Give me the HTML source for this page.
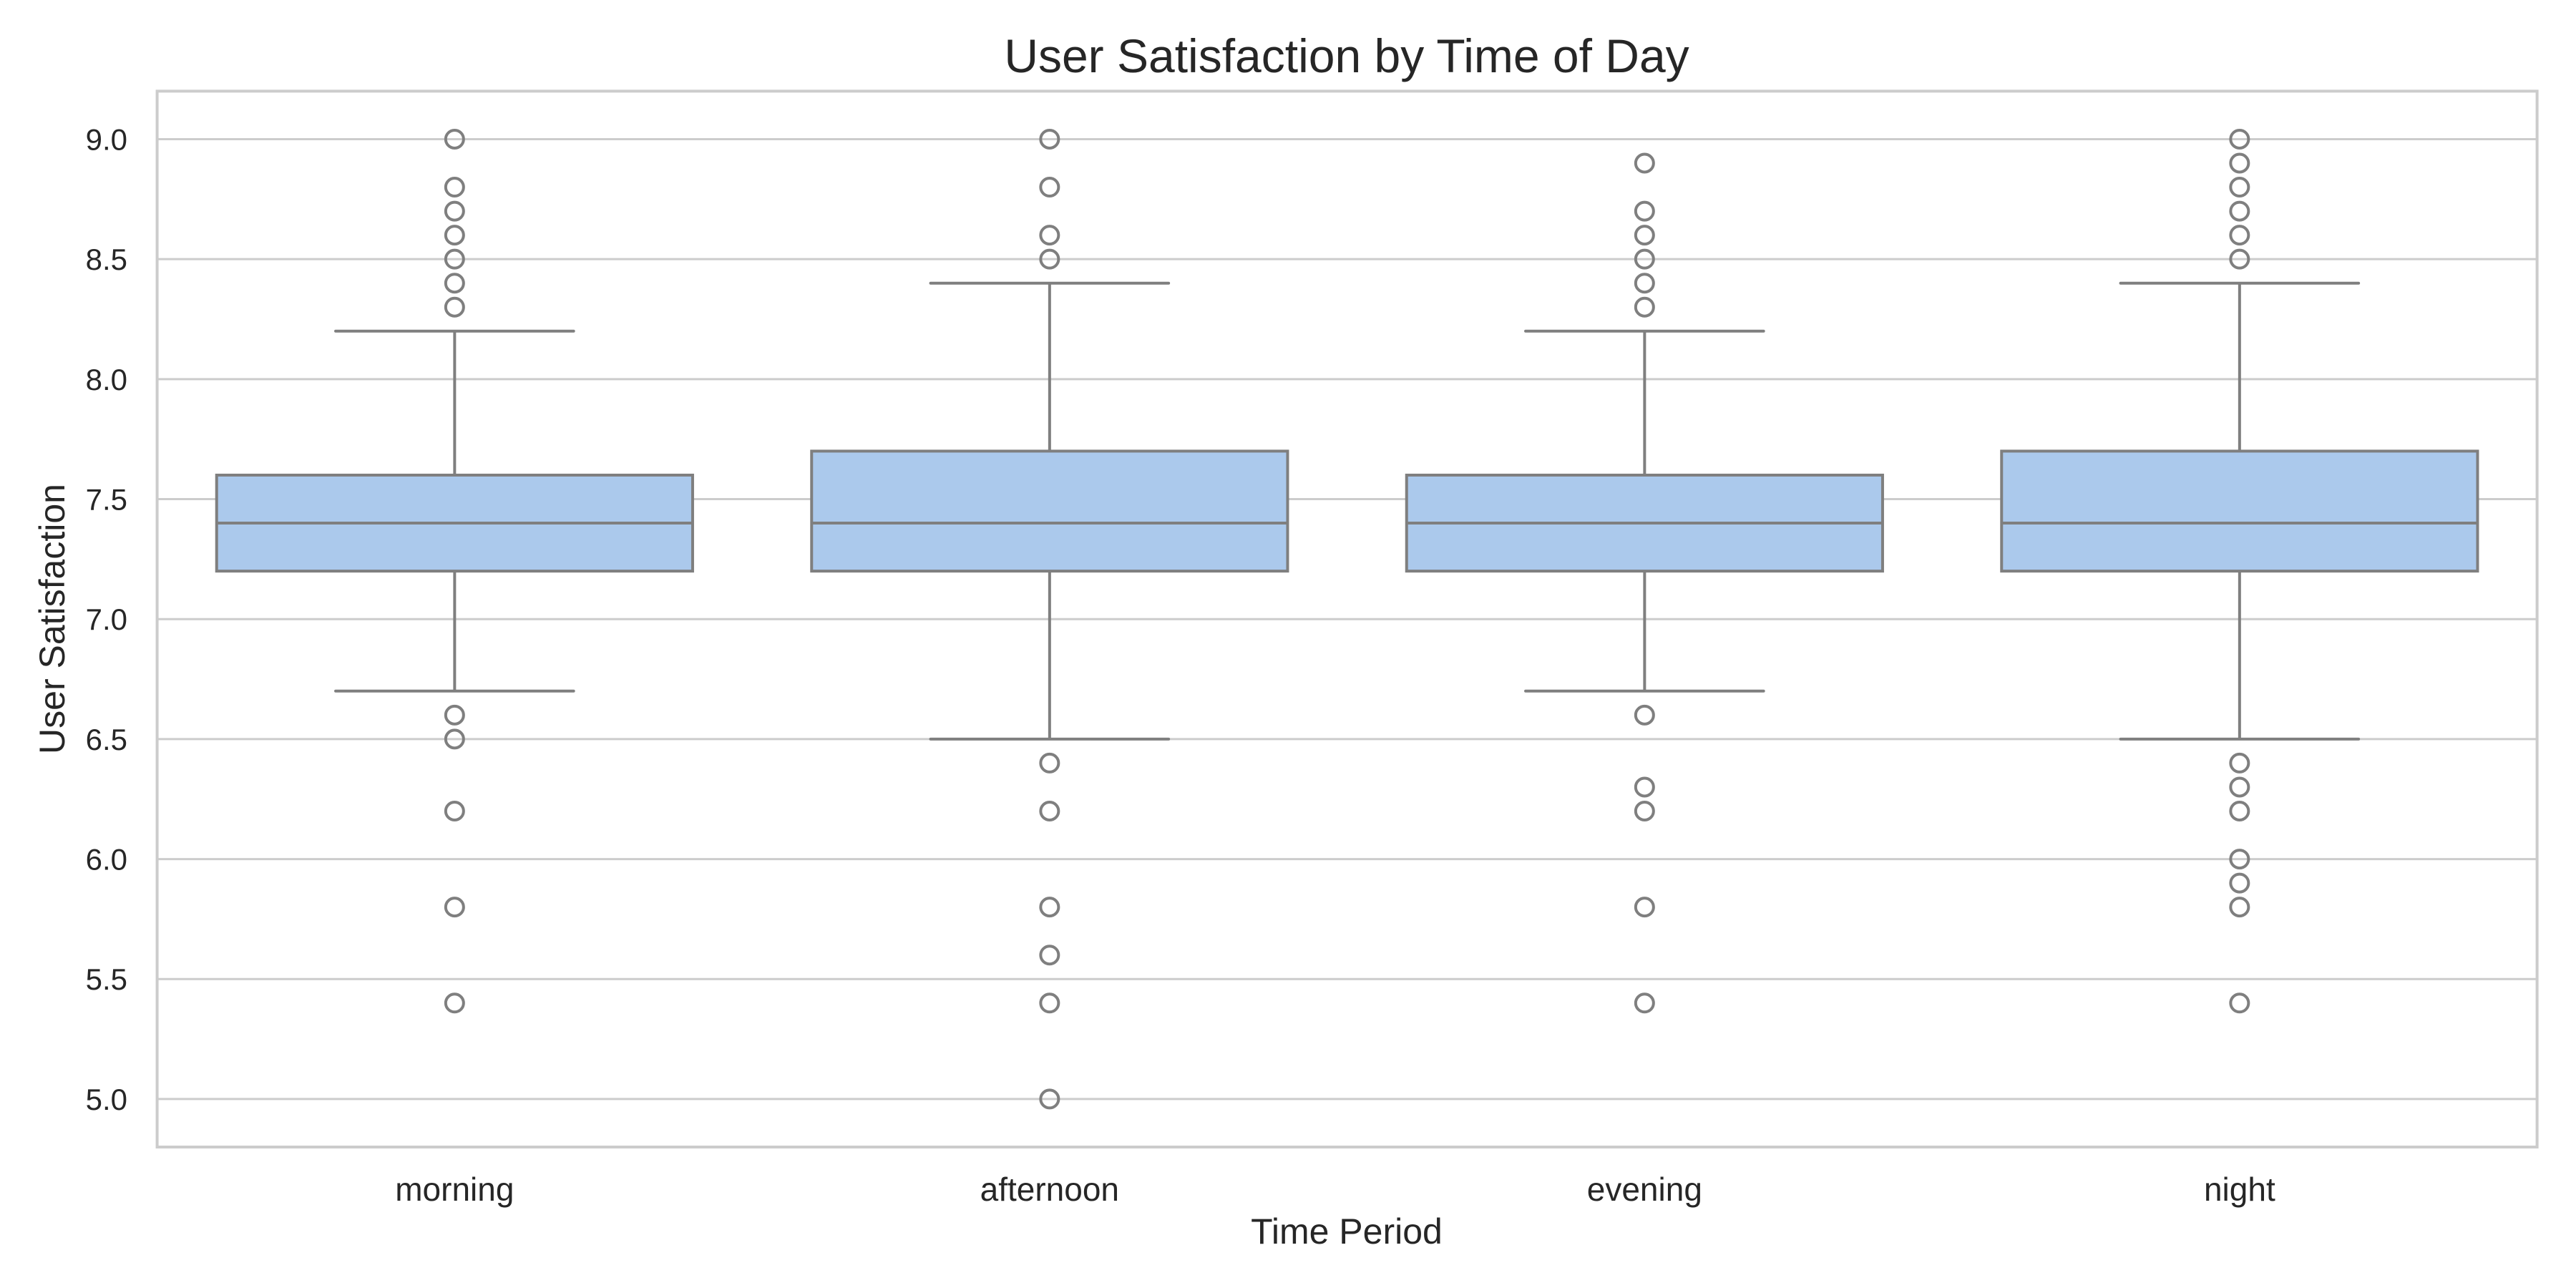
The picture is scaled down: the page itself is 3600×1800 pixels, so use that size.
<!DOCTYPE html>
<html><head><meta charset="utf-8"><style>
html,body{margin:0;padding:0;background:#fff;}
svg{display:block;font-family:"Liberation Sans",Arial,sans-serif;}
</style></head><body>
<svg id="chart" width="3600" height="1800" viewBox="0 0 3600 1800" xmlns="http://www.w3.org/2000/svg">
<rect x="0" y="0" width="3600" height="1800" fill="#ffffff"/>
<g id="grid"></g>
<g id="marks"></g>
<g id="axes"></g>
<text x="1882" y="101" text-anchor="middle" font-size="66" fill="#262626">User Satisfaction by Time of Day</text>
<text x="1882" y="1738" text-anchor="middle" font-size="50" fill="#262626">Time Period</text>
<text transform="translate(90,865) rotate(-90)" text-anchor="middle" font-size="50" fill="#262626">User Satisfaction</text>
</svg>
<script>
const categories = ["morning","afternoon","evening","night"];
const q1 = [7.2, 7.2, 7.2, 7.2];
const medians = [7.4, 7.4, 7.4, 7.4];
const q3 = [7.6, 7.7, 7.6, 7.7];
const whiskerLow = [6.7, 6.5, 6.7, 6.5];
const whiskerHigh = [8.2, 8.4, 8.2, 8.4];
const fliersMorning = [9.0,8.8,8.7,8.6,8.5,8.4,8.3,6.6,6.5,6.2,5.8,5.4];
const fliersAfternoon = [9.0,8.8,8.6,8.5,6.4,6.2,5.8,5.6,5.4,5.0];
const fliersEvening = [8.9,8.7,8.6,8.5,8.4,8.3,6.6,6.3,6.2,5.8,5.4];
const fliersNight = [9.0,8.9,8.8,8.7,8.6,8.5,6.4,6.3,6.2,6.0,5.9,5.8,5.4];
const yTicks = [5.0,5.5,6.0,6.5,7.0,7.5,8.0,8.5,9.0];
const yTickLabels = ["5.0","5.5","6.0","6.5","7.0","7.5","8.0","8.5","9.0"];

const NS="http://www.w3.org/2000/svg";
const L=219.6,R=3545.6,T=127.4,B=1603;
const yMin=4.8,yMax=9.2;
function y(v){return B-(v-yMin)/(yMax-yMin)*(B-T);}
const band=(R-L)/categories.length;
function x(i){return L+band*(i+0.5);}
function mk(tag,attrs,parent){const e=document.createElementNS(NS,tag);for(const k in attrs)e.setAttribute(k,attrs[k]);parent.appendChild(e);return e;}
const grid=document.getElementById('grid'),marks=document.getElementById('marks'),axes=document.getElementById('axes');
yTicks.forEach((t,i)=>{
  const g=mk('line',{x1:L,x2:R,y1:y(t),y2:y(t),stroke:'#cccccc','stroke-width':3},grid);
  
  
  const tx=mk('text',{x:178,y:y(t)+15,'text-anchor':'end','font-size':42,fill:'#262626'},axes);
  tx.textContent=yTickLabels[i];
  
  
});
const fr=mk('rect',{x:L,y:T,width:R-L,height:B-T,fill:'none',stroke:'#cccccc','stroke-width':4},axes);


const fliers=[fliersMorning,fliersAfternoon,fliersEvening,fliersNight];
const col='#7f7f7f',bw=band*0.8,cw=band*0.4;
categories.forEach((c,i)=>{
  const cx=x(i);
  const g=mk('g',{},marks);
  
  
  mk('line',{x1:cx,x2:cx,y1:y(q3[i]),y2:y(whiskerHigh[i]),stroke:col,'stroke-width':4},g);
  mk('line',{x1:cx,x2:cx,y1:y(q1[i]),y2:y(whiskerLow[i]),stroke:col,'stroke-width':4},g);
  mk('line',{x1:cx-cw/2,x2:cx+cw/2,y1:y(whiskerHigh[i]),y2:y(whiskerHigh[i]),stroke:col,'stroke-width':4,'stroke-linecap':'round'},g);
  mk('line',{x1:cx-cw/2,x2:cx+cw/2,y1:y(whiskerLow[i]),y2:y(whiskerLow[i]),stroke:col,'stroke-width':4,'stroke-linecap':'round'},g);
  const r=mk('rect',{x:cx-bw/2,y:y(q3[i]),width:bw,height:y(q1[i])-y(q3[i]),fill:'#abc9ec',stroke:col,'stroke-width':4},g);
  
  
  const m=mk('line',{x1:cx-bw/2,x2:cx+bw/2,y1:y(medians[i]),y2:y(medians[i]),stroke:col,'stroke-width':4},g);
  
  
  fliers[i].forEach(v=>{
    const p=mk('circle',{cx:cx,cy:y(v),r:12.5,fill:'none',stroke:col,'stroke-width':4},g);
    
    
  });
  const t=mk('text',{x:cx,y:1678,'text-anchor':'middle','font-size':46,fill:'#262626'},axes);
  t.textContent=c;
  
  
});
</script>
</body></html>
